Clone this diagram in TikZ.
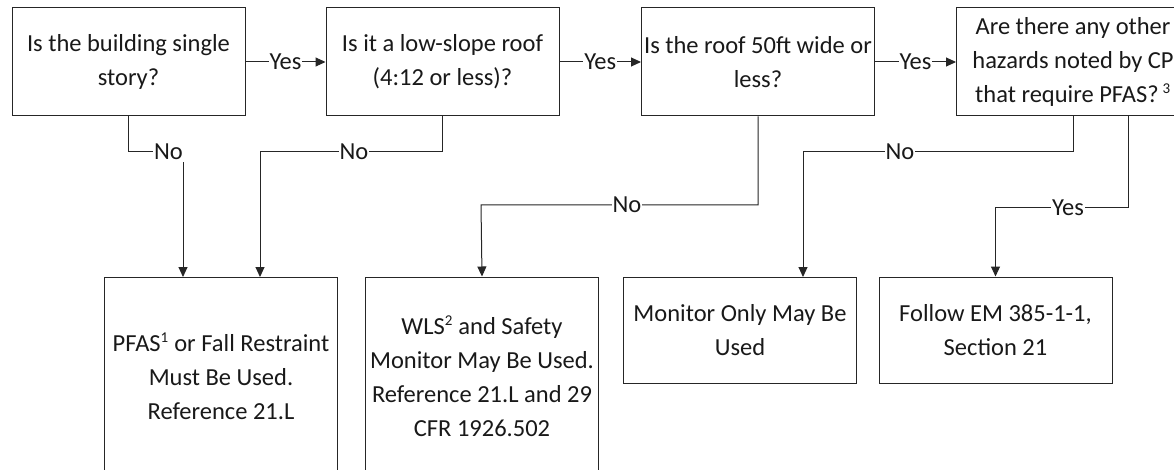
\documentclass[tikz,border=0pt]{standalone}
\usepackage{fontspec}
\setmainfont{Carlito}
\usetikzlibrary{arrows.meta}
\newcommand{\supnum}[1]{\textsuperscript{\fontsize{15}{15}\selectfont #1}}
\begin{document}
\begin{tikzpicture}[x=1pt,y=-1pt,
  box/.style={draw=black!85,line width=1pt,fill=white,align=center,inner sep=0pt,
    minimum width=233pt,font=\fontsize{24.5}{34}\selectfont,text=black!90},
  qbox/.style={box,minimum height=108pt},
  sbox/.style={box,minimum height=106pt},
  tbox/.style={box,minimum height=198pt},
  con/.style={draw=black!85,line width=1pt},
  arr/.style={con,-{Triangle[length=10pt,width=9pt]}},
  lbl/.style={fill=white,inner xsep=1pt,inner ysep=2pt,font=\fontsize{24.5}{28}\selectfont,text=black!90}]
\useasboundingbox (0,0) rectangle (1174,470);
\clip (0,0) rectangle (1174,470);
\fill[white] (0,0) rectangle (1174,470);

% question boxes
\node[qbox] (q1) at (128.5,62) {Is the building single\\story?};
\node[qbox] (q2) at (442.5,62) {Is it a low-slope roof\\(4:12 or less)?};
\node[qbox] (q3) at (758,62) {Is the roof 50ft wide or\\less?};
\node[qbox] (q4) at (1073,62) {Are there any other\\hazards noted by CP\\that require PFAS?\,\supnum{3}};

% result boxes
\node[tbox] (r1) at (221,376) {PFAS\supnum{1} or Fall Restraint\\Must Be Used.\\Reference 21.L};
\node[tbox] (r2) at (482,376) {WLS\supnum{2} and Safety\\Monitor May Be Used.\\Reference 21.L and 29\\CFR 1926.502};
\node[sbox] (r3) at (740,330) {Monitor Only May Be\\Used};
\node[sbox] (r4) at (995.5,330) {Follow EM 385-1-1,\\Section 21};

% entry / exit points
\coordinate (e1a) at (183,277);
\coordinate (e1b) at (260,277);
\coordinate (e3) at (803,277);
\coordinate (d4) at (1128,116);

% Yes connectors
\draw[arr] (q1.east) -- node[lbl]{Yes} (q2.west);
\draw[arr] (q2.east) -- node[lbl]{Yes} (q3.west);
\draw[arr] (q3.east) -- node[lbl]{Yes} (q4.west);

% No / Yes branches
\draw[con] (q1.south) |- (183,152);
\draw[arr] (183,152) -- (e1a);
\node[lbl,anchor=east] (n1) at (184,152) {No};

\draw[arr] (q2.south) |- (260,152) -- (e1b);
\node[lbl] (n2) at (354,152) {No};

\draw[arr] (q3.south) |- (481,205) -- (r2.north);
\node[lbl] (n3) at (627,205) {No};

\draw[arr] (q4.south) |- (803,152) -- (e3);
\node[lbl] (n4) at (900,152) {No};

\draw[arr] (d4) |- (r4.north |- 0,208) -- (r4.north);
\node[lbl] (y4) at (1068,208) {Yes};
\end{tikzpicture}
\end{document}
